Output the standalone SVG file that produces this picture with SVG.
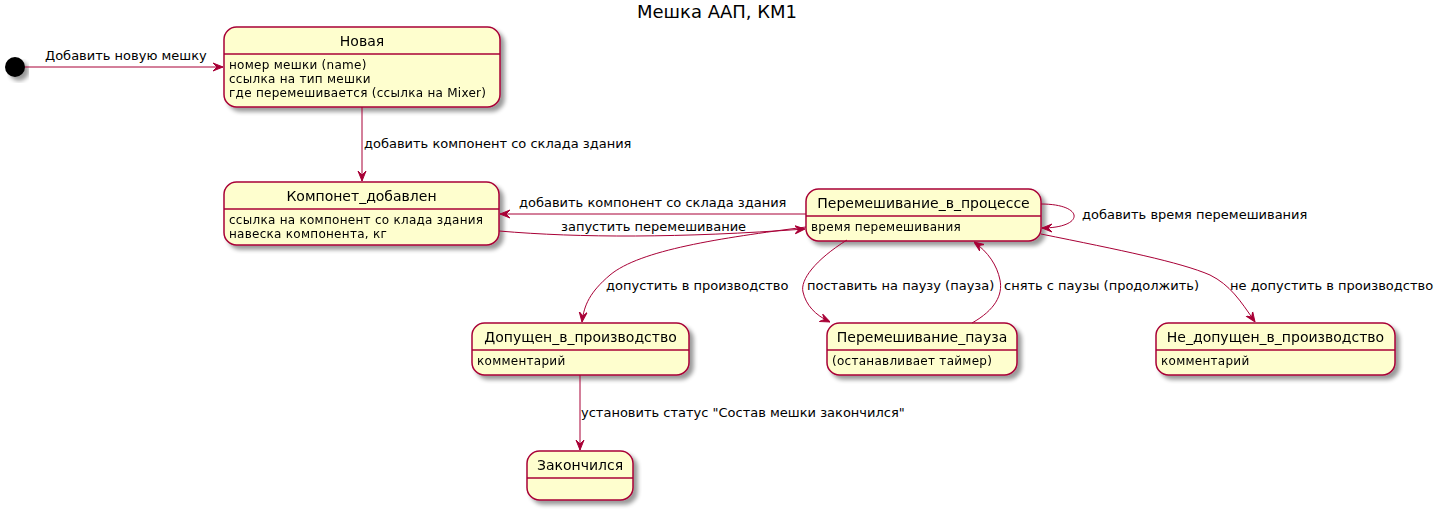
<svg xmlns="http://www.w3.org/2000/svg" width="1444" height="513" viewBox="0 0 1444 513">
<defs>
<filter id="sh" x="-10%" y="-10%" width="130%" height="140%">
<feGaussianBlur in="SourceAlpha" stdDeviation="2"/>
<feOffset dx="4" dy="4" result="b"/>
<feComponentTransfer><feFuncA type="linear" slope="0.4"/></feComponentTransfer>
<feMerge><feMergeNode/><feMergeNode in="SourceGraphic"/></feMerge>
</filter>
<marker id="ah" viewBox="0 0 10 10" refX="10" refY="5" markerWidth="10" markerHeight="10" markerUnits="userSpaceOnUse" orient="auto">
<path d="M0,1 L10,5 L0,9 L4,5 Z" fill="#A80036" stroke="#A80036" stroke-width="1"/>
</marker>
</defs>
<style>
.st{fill:#FEFECE;stroke:#A80036;stroke-width:1.5}
.sep{stroke:#A80036;stroke-width:1.5}
.nm{font-family:"DejaVu Sans",sans-serif;font-size:14px;fill:#000;text-anchor:middle}
.at{font-family:"DejaVu Sans",sans-serif;font-size:12px;letter-spacing:0.27px;fill:#000}
.lb{font-family:"DejaVu Sans",sans-serif;font-size:13px;fill:#000}
.e{fill:none;stroke:#A80036;stroke-width:1;marker-end:url(#ah)}
</style>
<rect width="1444" height="513" fill="#FFFFFF"/>
<text x="717" y="18" font-family="DejaVu Sans, sans-serif" font-size="18" text-anchor="middle">Мешка ААП, КМ1</text>

<g id="start"><circle cx="15" cy="67" r="10" fill="#000000" filter="url(#sh)"/></g>

<g id="novaya" filter="url(#sh)">
<rect class="st" x="224" y="27" width="276" height="80" rx="12.5"/>
<line class="sep" x1="224" y1="54" x2="500" y2="54"/>
<text class="nm" x="362" y="46">Новая</text>
<text class="at" x="229" y="69">номер мешки (name)</text>
<text class="at" x="229" y="83">ссылка на тип мешки</text>
<text class="at" x="229" y="97">где перемешивается (ссылка на Mixer)</text>
</g>

<g id="komponet" filter="url(#sh)">
<rect class="st" x="224" y="182" width="275" height="63" rx="12.5"/>
<line class="sep" x1="224" y1="209" x2="499" y2="209"/>
<text class="nm" x="361.5" y="201">Компонет_добавлен</text>
<text class="at" x="229" y="224">ссылка на компонент со клада здания</text>
<text class="at" x="229" y="238">навеска компонента, кг</text>
</g>

<g id="process" filter="url(#sh)">
<rect class="st" x="806" y="189" width="235" height="52" rx="12.5"/>
<line class="sep" x1="806" y1="216" x2="1041" y2="216"/>
<text class="nm" x="923.5" y="208">Перемешивание_в_процессе</text>
<text class="at" x="811" y="231">время перемешивания</text>
</g>

<g id="dopushchen" filter="url(#sh)">
<rect class="st" x="472" y="323" width="217" height="52" rx="12.5"/>
<line class="sep" x1="472" y1="350" x2="689" y2="350"/>
<text class="nm" x="580.5" y="342">Допущен_в_производство</text>
<text class="at" x="477" y="365">комментарий</text>
</g>

<g id="pauza" filter="url(#sh)">
<rect class="st" x="827" y="323" width="190" height="52" rx="12.5"/>
<line class="sep" x1="827" y1="350" x2="1017" y2="350"/>
<text class="nm" x="922" y="342">Перемешивание_пауза</text>
<text class="at" x="832" y="365">(останавливает таймер)</text>
</g>

<g id="nedopushchen" filter="url(#sh)">
<rect class="st" x="1156" y="323" width="239" height="52" rx="12.5"/>
<line class="sep" x1="1156" y1="350" x2="1395" y2="350"/>
<text class="nm" x="1275.5" y="342">Не_допущен_в_производство</text>
<text class="at" x="1161" y="365">комментарий</text>
</g>

<g id="zakonchilsya" filter="url(#sh)">
<rect class="st" x="527" y="451" width="106" height="49" rx="12.5"/>
<line class="sep" x1="527" y1="478" x2="633" y2="478"/>
<text class="nm" x="580" y="470">Закончился</text>
</g>

<g id="edges">
<path class="e" d="M25,67 L223,67"/>
<text class="lb" x="45" y="60">Добавить новую мешку</text>

<path class="e" d="M362,107 L362,181"/>
<text class="lb" x="364" y="148">добавить компонент со склада здания</text>

<path class="e" d="M806,214 L500,214"/>
<text class="lb" x="519" y="207">добавить компонент со склада здания</text>

<path class="e" d="M499,231 C580,238 680,238 805,229"/>
<text class="lb" x="561" y="231">запустить перемешивание</text>

<path class="e" d="M1041,204 C1085,204 1085,228 1042,228"/>
<text class="lb" x="1082" y="219">добавить время перемешивания</text>

<path class="e" d="M806,227 C720,238 640,250 610,275 C590,292 584,305 582,322"/>
<text class="lb" x="606" y="290">допустить в производство</text>

<path class="e" d="M847,240 C815,260 800,280 803,292 C806,305 815,315 830,322"/>
<text class="lb" x="807" y="290">поставить на паузу (пауза)</text>

<path class="e" d="M972,323 C995,310 1003,295 1000,280 C997,265 988,252 974,242"/>
<text class="lb" x="1004" y="290">снять с паузы (продолжить)</text>

<path class="e" d="M1041,234 C1120,250 1180,262 1210,275 C1230,285 1240,300 1255,322"/>
<text class="lb" x="1230" y="290">не допустить в производство</text>

<path class="e" d="M580,375 L580,450"/>
<text class="lb" x="581" y="417">установить статус "Состав мешки закончился"</text>
</g>
</svg>
